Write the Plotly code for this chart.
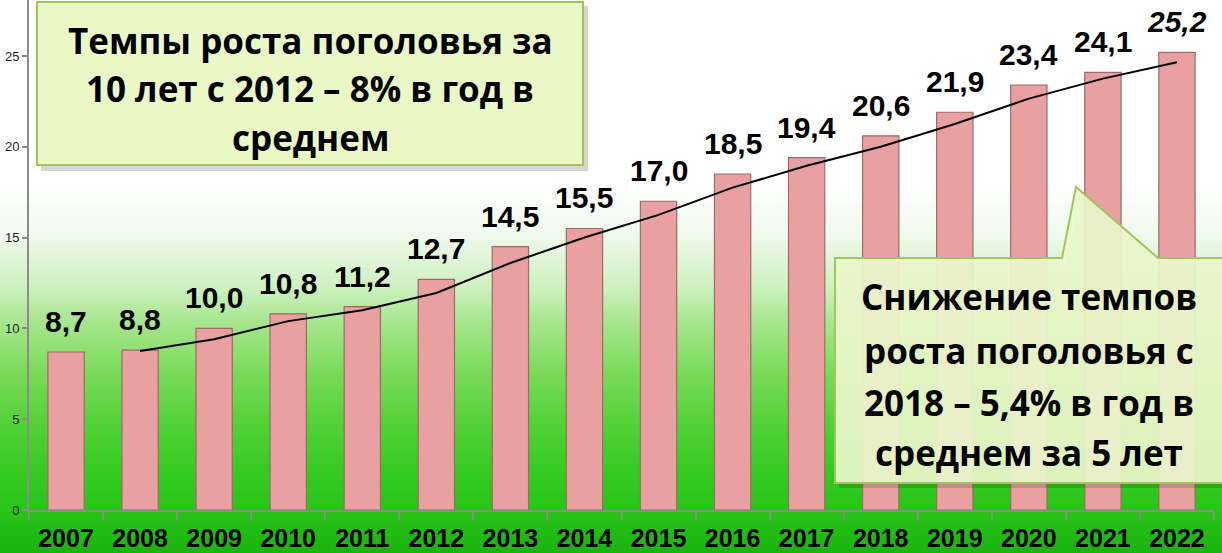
import plotly.graph_objects as go

# ---------------- data ----------------
years = ["2007", "2008", "2009", "2010", "2011", "2012", "2013", "2014",
         "2015", "2016", "2017", "2018", "2019", "2020", "2021", "2022"]
values = [8.7, 8.8, 10.0, 10.8, 11.2, 12.7, 14.5, 15.5,
          17.0, 18.5, 19.4, 20.6, 21.9, 23.4, 24.1, 25.2]
trend_years = years[1:]
trend_values = [8.75, 9.4, 10.4, 11.0, 11.95, 13.6, 15.0, 16.25,
                17.75, 18.95, 20.0, 21.25, 22.65, 23.75, 24.65]
y_ticks = [0, 5, 10, 15, 20, 25]
left_box_lines = ["Темпы роста поголовья за", "10 лет с 2012 – 8% в год в", "среднем"]
right_box_lines = ["Снижение темпов", "роста поголовья с", "2018 – 5,4% в год в", "среднем за 5 лет"]

# ---------------- geometry helpers ----------------
W, H = 1222, 553
ML, MR, MT, MB = 29, 8, 0, 43
PW = W - ML - MR
PH = H - MT - MB


def px(x):
    return (x - ML) / PW


def py(y):
    return (H - MB - y) / PH


def hex2rgb(h):
    h = h.lstrip("#")
    return tuple(int(h[i:i + 2], 16) for i in (0, 2, 4))


def lerp_color(stops, y):
    for (y0, c0), (y1, c1) in zip(stops, stops[1:]):
        if y0 <= y <= y1:
            t = (y - y0) / (y1 - y0) if y1 > y0 else 0
            a, b = hex2rgb(c0), hex2rgb(c1)
            return "rgb(%d,%d,%d)" % tuple(round(a[i] + (b[i] - a[i]) * t) for i in range(3))
    return stops[-1][1]


bg_stops = [(0, "#ffffff"), (185, "#ffffff"), (235, "#eff9ec"), (285, "#d0f1c2"),
            (325, "#a4e58b"), (375, "#78da58"), (425, "#52d136"), (475, "#34ca20"),
            (510, "#28c518"), (553, "#1bb30e")]

shapes = []
step = 4
for y in range(0, H, step):
    shapes.append(dict(type="rect", xref="paper", yref="paper", layer="below",
                       x0=px(-2), x1=px(W + 2), y0=py(y + step + 1.5), y1=py(y),
                       line=dict(width=0), fillcolor=lerp_color(bg_stops, y + step / 2)))

# left box shadow + box
shapes.append(dict(type="rect", xref="paper", yref="paper", layer="above",
                   x0=px(41), x1=px(588), y0=py(171), y1=py(6),
                   line=dict(width=0), fillcolor="rgba(0,0,0,0.16)"))
shapes.append(dict(type="rect", xref="paper", yref="paper", layer="above",
                   x0=px(37), x1=px(583), y0=py(165), y1=py(2),
                   line=dict(color="#a3c65a", width=2), fillcolor="#eaf8c8"))


def path_from(points):
    s = "M %f,%f " % (px(points[0][0]), py(points[0][1]))
    for x, y in points[1:]:
        s += "L %f,%f " % (px(x), py(y))
    return s + "Z"


callout = [(835, 258), (1062, 258), (1076, 187), (1158, 258), (1224, 258),
           (1224, 483), (835, 483)]
shadow = [(x + 4, y + 5) for x, y in callout]
shapes.append(dict(type="path", xref="paper", yref="paper", layer="above",
                   path=path_from(shadow), line=dict(width=0), fillcolor="rgba(0,0,0,0.14)"))
shapes.append(dict(type="path", xref="paper", yref="paper", layer="above",
                   path=path_from(callout), line=dict(color="#a3c65a", width=2),
                   fillcolor="rgba(236,249,204,0.92)"))

# ---------------- figure ----------------
fig = go.Figure()
fig.add_trace(go.Bar(x=years, y=values,
                     marker=dict(color="#e8a0a0", line=dict(color="#9b6b6b", width=1.2)),
                     hoverinfo="skip"))
fig.add_trace(go.Scatter(x=trend_years, y=trend_values, mode="lines",
                         line=dict(color="black", width=2), hoverinfo="skip"))

annotations = []
for i, v in enumerate(values):
    txt = ("%.1f" % v).replace(".", ",")
    last = i == len(values) - 1
    annotations.append(dict(x=i, y=v, xref="x", yref="y", text=txt, showarrow=False,
                            yanchor="bottom", yshift=12,
                            font=dict(family="Liberation Sans, Arial", size=30, color="black",
                                      weight="bold", style="italic" if last else "normal")))

for line, yc in zip(left_box_lines, [40, 88, 137]):
    annotations.append(dict(x=px(310), y=py(yc), xref="paper", yref="paper", text=line,
                            showarrow=False, xanchor="center", yanchor="middle",
                            font=dict(family="Open Sans", size=35, color="black", weight="bold")))
for line, yc in zip(right_box_lines, [297, 350, 402, 452]):
    annotations.append(dict(x=px(1029), y=py(yc), xref="paper", yref="paper", text=line,
                            showarrow=False, xanchor="center", yanchor="middle",
                            font=dict(family="Open Sans", size=35, color="black", weight="bold")))

fig.update_layout(
    width=W, height=H,
    margin=dict(l=ML, r=MR, t=MT, b=MB),
    paper_bgcolor="white", plot_bgcolor="rgba(0,0,0,0)",
    showlegend=False, bargap=0.51,
    shapes=shapes, annotations=annotations,
    xaxis=dict(type="category", range=[-0.5, len(years) - 0.5], automargin=False,
               showline=True, linecolor="#8c8c8c", linewidth=2, tickangle=0,
               ticks="outside", tickson="boundaries", ticklen=8, tickcolor="#8c8c8c",
               tickwidth=2, showgrid=False, ticklabelstandoff=5,
               tickfont=dict(family="Liberation Sans, Arial", size=25, color="black", weight="bold")),
    yaxis=dict(range=[0, 28.08], tickvals=y_ticks, showline=True, linecolor="#8c8c8c",
               automargin=False,
               linewidth=2, ticks="outside", ticklen=5, tickcolor="#8c8c8c", tickwidth=2,
               showgrid=False, zeroline=False,
               tickfont=dict(family="Liberation Sans, Arial", size=13, color="#222222")),
)

fig.write_html("out.html", config={"displayModeBar": False},
               post_script="document.body.style.margin='0';document.body.style.overflow='hidden';")
